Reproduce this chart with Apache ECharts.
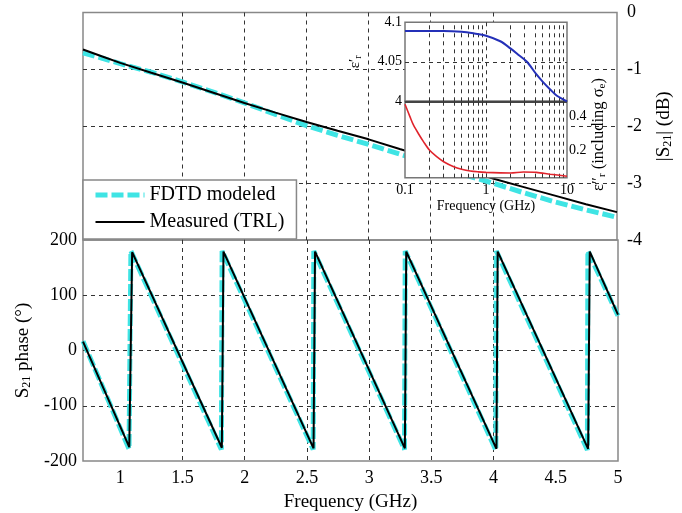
<!DOCTYPE html>
<html><head><meta charset="utf-8">
<script src="https://cdn.jsdelivr.net/npm/echarts@6/dist/echarts.min.js"></script>
<style>html,body{margin:0;padding:0;background:#fff}#c{width:682px;height:513px}</style>
</head><body><div id="c"></div>
<script>
// ---- data ----
const magFreq = [0.7, 0.85, 1.0, 1.25, 1.5, 1.75, 2.0, 2.25, 2.5, 2.75, 3.0, 3.25, 3.5, 3.75, 4.0, 4.25, 4.5, 4.75, 5.0];
const magMeasured = [-0.65, -0.77, -0.885, -1.06, -1.23, -1.41, -1.59, -1.76, -1.925, -2.08, -2.23, -2.40, -2.56, -2.74, -2.92, -3.07, -3.22, -3.37, -3.51];
const magFdtd = [-0.71, -0.80, -0.90, -1.05, -1.22, -1.40, -1.59, -1.79, -1.99, -2.16, -2.32, -2.49, -2.66, -2.84, -3.00, -3.17, -3.33, -3.47, -3.60];

const phaseFreqMeasured = [0.7, 1.072, 1.095, 1.816, 1.829, 2.553, 2.565, 3.287, 3.298, 4.023, 4.033, 4.760, 4.773, 5.0];
const phaseMeasured = [16, -175, 178, -176, 179, -177, 179, -177, 179, -178, 179, -178, 179, 65];
const phaseFreqFdtd = [0.7, 1.070, 1.085, 1.812, 1.818, 2.550, 2.555, 3.284, 3.290, 4.018, 4.022, 4.754, 4.758, 5.0];
const phaseFdtd = [17, -178, 180, -179, 180, -179, 180, -179, 180, -180, 180, -180, 180, 63];

const epsFreq = [0.1, 0.2, 0.3, 0.5, 0.7, 1, 1.5, 2, 2.5, 3.2, 4.2, 5, 6.2, 7.5, 10];
const epsReal = [4.089, 4.089, 4.089, 4.088, 4.086, 4.083, 4.076, 4.067, 4.059, 4.050, 4.034, 4.025, 4.015, 4.007, 4.0];
const epsImagFreq = [0.1, 0.115, 0.127, 0.15, 0.169, 0.2, 0.246, 0.3, 0.4, 0.5, 0.64, 0.8, 1, 1.5, 2, 2.9, 4.2, 6.2, 10];
const epsImag = [0.474, 0.40, 0.35, 0.29, 0.25, 0.20, 0.16, 0.13, 0.10, 0.085, 0.074, 0.069, 0.066, 0.063, 0.062, 0.068, 0.066, 0.055, 0.043];

const freqTicks = [1, 1.5, 2, 2.5, 3, 3.5, 4, 4.5, 5];
const freqGrid = [1, 1.5, 2, 2.5, 3, 3.5, 4, 4.5];
const insetMinorF = [0.2, 0.3, 0.4, 0.5, 0.6, 0.7, 0.8, 0.9, 2, 3, 4, 5, 6, 7, 8, 9];
const epsImagTicks = [0.2, 0.4];
const epsRealBase = 4;

// ---- chart ----
const FF = 'Liberation Serif';
const pairs = (xs, ys) => xs.map((x, i) => [x, ys[i]]);
const gridLine = { lineStyle: { type: [4, 4], color: '#333', width: 1 } };
const CYAN = '#3fe4e4';
const subRich = (fs, pad) => ({ s: { fontSize: fs, fontFamily: FF, verticalAlign: 'bottom', padding: [pad, 0, 0, 0] } });

const chart = echarts.init(document.getElementById('c'), null, { renderer: 'canvas' });
const option = {
  backgroundColor: '#fff',
  animation: false,
  textStyle: { fontFamily: FF, color: '#000' },
  grid: [
    { left: 83, top: 12.5, width: 535, height: 227.5, show: true, borderColor: '#888', borderWidth: 1.5, backgroundColor: 'transparent' },
    { left: 83, top: 240, width: 535, height: 221.5, show: true, borderColor: '#888', borderWidth: 1.5, backgroundColor: 'transparent' },
    { left: 405, top: 22.3, width: 162, height: 79, show: true, borderColor: '#777', borderWidth: 1.5, backgroundColor: '#fff', z: 5 },
    { left: 405, top: 101.3, width: 162, height: 76.4, show: true, borderColor: '#777', borderWidth: 1.5, backgroundColor: '#fff', z: 5 }
  ],
  legend: {
    data: ['FDTD modeled', 'Measured (TRL)'],
    orient: 'vertical', left: 83, top: 180,
    padding: [4, 12, 6, 10],
    itemWidth: 49, itemHeight: 14, itemGap: 5,
    itemStyle: { opacity: 0 },
    lineStyle: { width: 'inherit', type: 'inherit' },
    backgroundColor: '#fff', borderColor: '#888', borderWidth: 1.5, borderRadius: 0,
    textStyle: { fontFamily: FF, fontSize: 20, color: '#000', lineHeight: 22 },
    z: 10
  },
  xAxis: [
    { gridIndex: 0, type: 'value', min: 0.7, max: 5,
      axisLine: { show: false }, axisLabel: { show: false, customValues: freqTicks },
      axisTick: { show: false, customValues: freqGrid },
      splitLine: Object.assign({ show: true, showMinLine: false, showMaxLine: false }, gridLine) },
    { gridIndex: 1, type: 'value', min: 0.7, max: 5,
      axisLine: { show: false },
      axisLabel: { customValues: freqTicks, fontSize: 18, fontFamily: FF, color: '#000', margin: 8 },
      axisTick: { show: false, customValues: freqGrid },
      splitLine: Object.assign({ show: true, showMinLine: false, showMaxLine: false }, gridLine),
      name: 'Frequency (GHz)', nameLocation: 'middle', nameGap: 32,
      nameTextStyle: { fontSize: 19, fontFamily: FF, color: '#000' } },
    { gridIndex: 2, type: 'log', logBase: 10, min: 0.1, max: 10, z: 6,
      axisLine: { show: false }, axisLabel: { show: false }, axisTick: { show: false },
      splitLine: Object.assign({ show: true, showMinLine: false, showMaxLine: false }, gridLine) },
    { gridIndex: 3, type: 'log', logBase: 10, min: 0.1, max: 10, z: 6,
      axisLine: { show: false }, axisTick: { show: false },
      axisLabel: { fontSize: 14, fontFamily: FF, color: '#000', margin: 6 },
      splitLine: Object.assign({ show: true, showMinLine: false, showMaxLine: false }, gridLine),
      name: 'Frequency (GHz)', nameLocation: 'middle', nameGap: 22,
      nameTextStyle: { fontSize: 14, fontFamily: FF, color: '#000' } }
  ],
  yAxis: [
    { gridIndex: 0, type: 'value', position: 'right', min: -4, max: 0, interval: 1,
      axisLine: { show: false }, axisTick: { show: false },
      axisLabel: { fontSize: 18, fontFamily: FF, color: '#000', margin: 10 },
      splitLine: Object.assign({ show: true, showMinLine: false, showMaxLine: false }, gridLine),
      name: '|S{s|21}| (dB)', nameLocation: 'middle', nameGap: 38, nameRotate: 90,
      nameTextStyle: { fontSize: 19, fontFamily: FF, color: '#000', rich: subRich(12, 6) } },
    { gridIndex: 1, type: 'value', position: 'left', min: -200, max: 200, interval: 100,
      axisLine: { show: false }, axisTick: { show: false },
      axisLabel: { fontSize: 18, fontFamily: FF, color: '#000', margin: 6 },
      splitLine: Object.assign({ show: true, showMinLine: false, showMaxLine: false }, gridLine),
      name: 'S{s|21} phase (°)', nameLocation: 'middle', nameGap: 50, nameRotate: 90,
      nameTextStyle: { fontSize: 19, fontFamily: FF, color: '#000', rich: subRich(12, 6) } },
    { gridIndex: 2, type: 'value', position: 'left', min: 4, max: 4.1, interval: 0.05, z: 6,
      axisLine: { show: false }, axisTick: { show: false },
      axisLabel: { fontSize: 14, fontFamily: FF, color: '#000', margin: 3 },
      splitLine: Object.assign({ show: true, showMinLine: false, showMaxLine: false }, gridLine),
      name: 'ε′{s|r}', nameLocation: 'middle', nameGap: 42, nameRotate: 90,
      nameTextStyle: { fontSize: 15, fontFamily: FF, color: '#000', rich: subRich(10, 4) } },
    { gridIndex: 3, type: 'value', position: 'right', min: 0.034, max: 0.492, z: 6,
      axisLine: { show: false },
      axisTick: { show: false, customValues: epsImagTicks },
      axisLabel: { customValues: epsImagTicks, formatter: v => v.toFixed(1), fontSize: 14, fontFamily: FF, color: '#000', margin: 2 },
      splitLine: Object.assign({ show: true, showMinLine: false, showMaxLine: false }, gridLine),
      name: 'ε″{s|r} (including σ{s|e})', nameLocation: 'middle', nameGap: 17, nameRotate: 90,
      nameTextStyle: { fontSize: 16.5, fontFamily: FF, color: '#000', padding: [0, 0, 0, 10], rich: subRich(11, 4) } }
  ],
  series: [
    { name: 'FDTD modeled', type: 'line', xAxisIndex: 0, yAxisIndex: 0, data: pairs(magFreq, magFdtd),
      symbol: 'none', z: 2, lineStyle: { color: CYAN, width: 5, type: [12, 4] }, itemStyle: { color: CYAN } },
    { name: 'Measured (TRL)', type: 'line', xAxisIndex: 0, yAxisIndex: 0, data: pairs(magFreq, magMeasured),
      symbol: 'none', z: 3, lineStyle: { color: '#000', width: 2 }, itemStyle: { color: '#000' } },
    { name: 'FDTD modeled', type: 'line', xAxisIndex: 1, yAxisIndex: 1, data: pairs(phaseFreqFdtd, phaseFdtd),
      symbol: 'none', z: 2, lineStyle: { color: CYAN, width: 5, type: [12, 3] }, itemStyle: { color: CYAN } },
    { name: 'Measured (TRL)', type: 'line', xAxisIndex: 1, yAxisIndex: 1, data: pairs(phaseFreqMeasured, phaseMeasured),
      symbol: 'none', z: 3, lineStyle: { color: '#000', width: 2 }, itemStyle: { color: '#000' } },
    { name: 'eps1', type: 'line', xAxisIndex: 2, yAxisIndex: 2, data: pairs(epsFreq, epsReal),
      symbol: 'none', smooth: 0.3, z: 8, lineStyle: { color: '#2430b8', width: 2 },
      markLine: { silent: true, symbol: 'none', label: { show: false }, animation: false,
        lineStyle: { type: [4, 4], color: '#333', width: 1 },
        data: insetMinorF.map(v => ({ xAxis: v })).concat([{ yAxis: epsRealBase, lineStyle: { type: 'solid', color: '#444', width: 1.8 } }]) } },
    { name: 'eps2', type: 'line', xAxisIndex: 3, yAxisIndex: 3, data: pairs(epsImagFreq, epsImag),
      symbol: 'none', smooth: 0.3, z: 8, lineStyle: { color: '#e0242c', width: 1.6 },
      markLine: { silent: true, symbol: 'none', label: { show: false }, animation: false,
        lineStyle: { type: [4, 4], color: '#333', width: 1 },
        data: insetMinorF.map(v => ({ xAxis: v })) } }
  ]
};
chart.setOption(option);
</script>
</body></html>
